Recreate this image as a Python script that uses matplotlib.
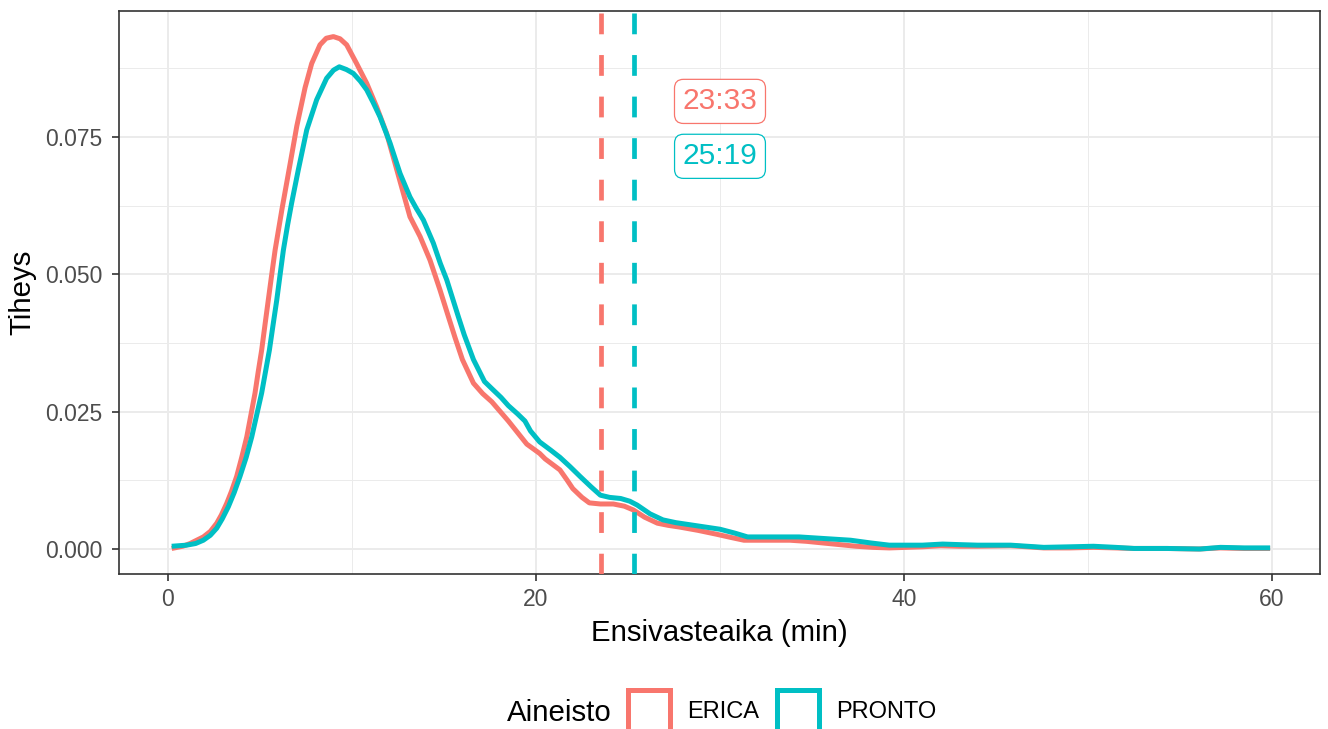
import numpy as np
import matplotlib
matplotlib.use("Agg")
import matplotlib.pyplot as plt
from matplotlib.patches import Patch

plt.rcParams['font.family'] = ['Liberation Sans', 'DejaVu Sans']

# density curves (minutes, density)
erica_x = [0.2, 0.8, 1.2, 1.92, 2.3, 2.65, 2.9, 3.19, 3.45, 3.73, 4.0, 4.28, 4.5,
           4.73, 4.9, 5.09, 5.27, 5.45, 5.63, 5.82, 6.2, 6.63, 7.0, 7.45, 7.81,
           8.26, 8.6, 8.99, 9.35, 9.71, 10.25, 10.8, 11.34, 11.88, 12.34, 12.79,
           13.15, 13.7, 14.24, 14.78, 15.24, 15.6, 16.0, 16.6, 17.1, 17.6, 18.5,
           19.5, 20.2, 20.5, 21.3, 21.7, 22.0, 22.5, 22.9, 23.5, 24.2, 24.8, 25.3,
           25.9, 26.6, 27.2, 27.8, 28.8, 29.8, 30.6, 31.3, 32.5, 33.8, 34.7, 35.6,
           36.5, 37.4, 38.3, 39.2, 40.1, 41.0, 42.0, 43.0, 44.0, 45.8, 46.7, 47.6,
           49.0, 50.3, 51.5, 52.5, 54.3, 56.0, 57.2, 58.5, 59.9]
erica_y = [0.0001, 0.0005, 0.0010, 0.0022, 0.0032, 0.0047, 0.0062, 0.0083, 0.0105,
           0.0132, 0.0166, 0.0204, 0.0243, 0.0284, 0.0322, 0.0362, 0.0408, 0.0453,
           0.0498, 0.0544, 0.0620, 0.0700, 0.0770, 0.0840, 0.0884, 0.0918, 0.0930,
           0.0933, 0.0929, 0.0918, 0.0884, 0.0848, 0.0805, 0.0757, 0.0702, 0.0648,
           0.0605, 0.0569, 0.0526, 0.0472, 0.0423, 0.0385, 0.0345, 0.0302, 0.0283,
           0.0268, 0.0233, 0.0191, 0.0174, 0.0164, 0.0144, 0.0125, 0.0110, 0.0094,
           0.0084, 0.0082, 0.0082, 0.0078, 0.0071, 0.0058, 0.0047, 0.0043, 0.0040,
           0.0034, 0.0027, 0.0021, 0.0016, 0.0016, 0.0016, 0.0014, 0.0011, 0.0008,
           0.0005, 0.0003, 0.0002, 0.0003, 0.0004, 0.0006, 0.0005, 0.0005, 0.0006,
           0.0004, 0.0002, 0.0002, 0.0003, 0.0002, 0.0001, 0.0001, 0.0000, 0.0002,
           0.0001, 0.0001]

pronto_x = [0.2, 0.6, 1.01, 1.5, 1.92, 2.3, 2.65, 2.95, 3.28, 3.6, 3.91, 4.25, 4.55,
            4.82, 5.09, 5.3, 5.51, 5.71, 5.91, 6.09, 6.27, 6.5, 6.72, 7.08, 7.54,
            8.08, 8.62, 9.0, 9.31, 9.7, 10.07, 10.45, 10.8, 11.15, 11.52, 12.07,
            12.61, 13.15, 13.5, 13.88, 14.42, 14.8, 15.15, 15.78, 16.1, 16.6, 17.2,
            17.6, 18.1, 18.5, 19.0, 19.4, 19.7, 20.2, 20.8, 21.3, 21.85, 22.4, 23.0,
            23.5, 24.0, 24.6, 25.1, 25.5, 26.2, 26.9, 27.6, 28.4, 29.2, 30.0, 30.8,
            31.5, 32.8, 34.3, 35.7, 37.1, 38.2, 39.2, 40.1, 41.0, 42.1, 43.0, 44.0,
            45.0, 45.8, 46.7, 47.6, 49.0, 50.3, 51.5, 52.5, 54.3, 56.1, 57.2, 58.5,
            59.9]
pronto_y = [0.0005, 0.0006, 0.0007, 0.0010, 0.0016, 0.0025, 0.0038, 0.0055, 0.0077,
            0.0103, 0.0132, 0.0167, 0.0204, 0.0244, 0.0284, 0.0323, 0.0362, 0.0408,
            0.0453, 0.0499, 0.0544, 0.0590, 0.0630, 0.0690, 0.0763, 0.0818, 0.0857,
            0.0872, 0.0878, 0.0873, 0.0866, 0.0852, 0.0836, 0.0813, 0.0787, 0.0739,
            0.0684, 0.0641, 0.0620, 0.0599, 0.0557, 0.0520, 0.0490, 0.0423, 0.0390,
            0.0345, 0.0305, 0.0292, 0.0276, 0.0261, 0.0246, 0.0233, 0.0215, 0.0195,
            0.0180, 0.0167, 0.0150, 0.0132, 0.0113, 0.0098, 0.0094, 0.0092, 0.0087,
            0.0080, 0.0064, 0.0053, 0.0048, 0.0044, 0.0040, 0.0036, 0.0029, 0.0022,
            0.0022, 0.0022, 0.0019, 0.0016, 0.0011, 0.0007, 0.0007, 0.0007, 0.0009,
            0.0008, 0.0007, 0.0007, 0.0007, 0.0005, 0.0003, 0.0004, 0.0005, 0.0003,
            0.0001, 0.0001, 0.0000, 0.0003, 0.0002, 0.0002]

groups = ['ERICA', 'PRONTO']
means = [23.55, 25.32]
mean_labels = ['23:33', '25:19']
label_x = [30, 30]
label_y = [0.0815, 0.0715]

colors = ['#F8766D', '#00BFC4']

fig = plt.figure(figsize=(13.28, 7.29), dpi=100)
ax = fig.add_axes([119 / 1328, 1 - 574 / 729, (1320 - 119) / 1328, (574 - 11) / 729])

ax.plot(erica_x, erica_y, color=colors[0], lw=3.6, solid_joinstyle='round',
        solid_capstyle='butt', zorder=3)
ax.plot(pronto_x, pronto_y, color=colors[1], lw=3.6, solid_joinstyle='round',
        solid_capstyle='butt', zorder=3)

for m, c in zip(means, colors):
    ax.axvline(m, color=c, lw=3.4, linestyle=(0, (4.4, 4.4)), zorder=4)

for lx, ly, txt, c in zip(label_x, label_y, mean_labels, colors):
    ax.text(lx, ly, txt, color=c, fontsize=21.5, ha='center', va='center', zorder=5,
            bbox=dict(boxstyle='round,pad=0.27,rounding_size=0.3', fc='white', ec=c, lw=0.9))

ax.set_xlim(-2.663, 62.61)
ax.set_ylim(-0.00455, 0.09796)
ax.set_xticks([0, 20, 40, 60])
ax.set_xticks([10, 30, 50], minor=True)
ax.set_yticks([0, 0.025, 0.05, 0.075])
ax.set_yticklabels(['0.000', '0.025', '0.050', '0.075'])
ax.set_yticks([0.0125, 0.0375, 0.0625, 0.0875], minor=True)

ax.grid(which='major', color='#EBEBEB', lw=1.4)
ax.grid(which='minor', color='#EBEBEB', lw=0.7)
ax.set_axisbelow(True)

for s in ax.spines.values():
    s.set_color('#333333')
    s.set_linewidth(1.2)
ax.tick_params(which='major', length=5, width=1.2, color='#333333', labelsize=16.5,
               labelcolor='#4D4D4D', pad=5)
ax.tick_params(axis='y', which='major', pad=7)
ax.tick_params(which='minor', length=0)

ax.set_xlabel('Ensivasteaika (min)', fontsize=21.2, labelpad=6)
ax.set_ylabel('Tiheys', fontsize=21.2, labelpad=6)

handles = [Patch(facecolor='white', edgecolor=c, lw=3.6) for c in colors]
fig.legend(handles, groups, loc='center left', bbox_to_anchor=(628 / 1328, 18 / 729),
           ncol=2, frameon=False, fontsize=17, handlelength=1.78, handleheight=2.36,
           handletextpad=0.72, columnspacing=0.76, borderpad=0, borderaxespad=0)
fig.text(507 / 1328, 16 / 729, 'Aineisto', fontsize=21.2, ha='left', va='center')

fig.savefig('out.png', dpi=100)
